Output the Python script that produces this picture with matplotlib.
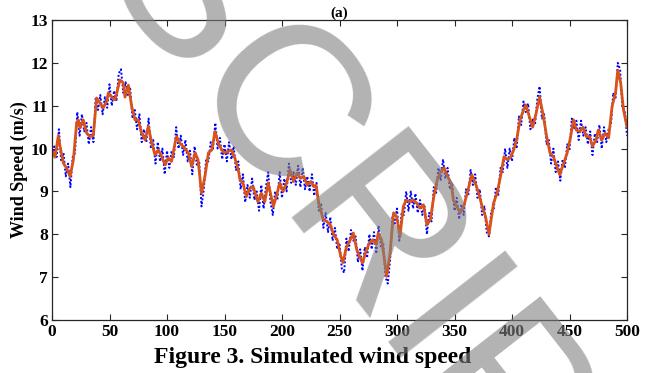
import matplotlib
matplotlib.use("Agg")
import matplotlib.pyplot as plt

# Smoothed (orange) wind speed, read at irregular knots
t_smooth = [0, 2.6, 5.5, 7, 9.9, 12.8, 15.7, 18.6, 21.4, 22.9, 24.3, 27.2, 30.1, 33, 35.9,
            38.8, 41.7, 44.6, 47.5, 49, 51.9, 54.8, 57.7, 59.1, 62, 63.5, 66.4, 69.3, 72.2,
            75, 78, 80.9, 83.8, 86.7, 89.6, 92.5, 95.4, 98.3, 101, 104, 107, 108.4, 111,
            114, 118.6, 121.5, 124.4, 127, 130, 133, 136, 139, 141.7, 144.6, 147.5, 150,
            153, 156, 159, 162, 163.5, 166, 169, 172, 175, 179, 182, 185, 188, 192.5, 195,
            198, 201, 204, 207, 210, 213, 216, 219, 222, 225, 228, 229.5, 232, 233.5, 236,
            239, 242, 245, 248, 251, 253, 256, 259, 262, 265, 267.5, 270, 273, 276, 279,
            282, 283.7, 286.6, 289.5, 291, 294, 297, 299.7, 302.6, 305.5, 308, 311, 314,
            317, 320, 323, 326, 329, 332, 335, 338, 341, 344, 347, 349, 352, 355, 358, 361,
            365, 368, 371, 374, 377, 380, 384, 387, 390, 393, 396, 399, 401.5, 404, 407,
            410, 412, 415, 418, 421, 424, 427, 430, 433, 436, 439, 441.5, 445, 448, 451,
            453.5, 456, 459, 461.7, 464.6, 467.5, 470, 473, 475, 478, 481, 484, 487, 490,
            492, 494.5, 497, 500]
v_smooth = [9.95, 9.8, 10.3, 10.05, 9.66, 9.54, 9.35, 9.74, 10.6, 10.67, 10.48, 10.67, 10.36,
            10.28, 10.3, 11.18, 11.06, 10.95, 11.1, 11.3, 11.2, 11.14, 11.45, 11.6, 11.53,
            11.2, 11.48, 10.98, 10.67, 10.67, 10.36, 10.2, 10.52, 10.13, 9.85, 9.97, 9.81,
            9.62, 9.78, 9.7, 10.13, 10.28, 10.13, 10.05, 9.9, 9.58, 9.9, 9.74, 8.96, 9.35,
            9.9, 9.97, 10.4, 10.13, 9.97, 9.9, 9.93, 9.97, 9.78, 9.5, 9.27, 9.2, 8.88, 9.08,
            9.11, 8.76, 8.96, 8.76, 9.2, 8.65, 8.88, 9.2, 9.0, 9.2, 9.5, 9.23, 9.43, 9.31,
            9.35, 9.15, 9.23, 9.11, 9.15, 8.73, 8.57, 8.34, 8.3, 8.22, 7.99, 7.87, 7.5, 7.34,
            7.7, 7.85, 8.03, 7.64, 7.48, 7.33, 7.6, 7.8, 7.87, 7.76, 8.03, 7.87, 7.33, 7.02,
            7.57, 8.5, 8.41, 7.95, 8.65, 8.8, 8.76, 8.8, 8.73, 8.61, 8.69, 8.22, 8.34, 8.88,
            9.27, 9.46, 9.55, 9.35, 9.2, 8.8, 8.65, 8.5, 8.65, 8.96, 9.39, 9.2, 8.96, 8.65,
            8.41, 8.0, 8.73, 8.96, 9.35, 9.81, 9.74, 9.81, 9.97, 10.2, 10.67, 10.9, 11.02,
            10.75, 10.5, 10.83, 11.2, 10.8, 10.3, 9.9, 9.81, 9.58, 9.39, 9.66, 9.9, 10.28,
            10.67, 10.43, 10.4, 10.5, 10.28, 10.28, 10.05, 10.2, 10.43, 10.2, 10.36, 10.25,
            10.98, 11.3, 11.83, 11.53, 10.9, 10.5]

# Raw simulated (blue dotted) wind speed, every 2 s
t_raw = list(range(0, 501, 2))
v_raw = [9.75, 10.05, 9.8, 10.45, 9.7, 9.9, 9.35, 9.65, 9.1, 9.8,
         9.9, 10.85, 10.3, 10.8, 10.4, 10.6, 10.1, 10.5, 10.15, 11.2,
         10.9, 11.25, 10.8, 11.2, 10.95, 11.5, 11.0, 11.35, 11.1, 11.75,
         11.85, 11.3, 11.55, 11.25, 11.4, 10.7, 10.9, 10.45, 10.8, 10.15,
         10.45, 10.15, 10.7, 10.0, 10.2, 9.65, 10.15, 9.7, 10.0, 9.4,
         9.95, 9.55, 9.95, 9.8, 10.5, 10.0, 10.3, 9.85, 10.2, 9.7,
         9.95, 9.4, 10.05, 9.6, 9.7, 8.65, 9.05, 9.75, 9.7, 10.15,
         10.0, 10.6, 10.0, 10.25, 9.75, 10.1, 9.7, 10.15, 9.75, 10.05,
         9.5, 9.7, 9.05, 9.4, 8.75, 9.15, 8.85, 9.3, 8.8, 9.0,
         8.55, 9.15, 8.6, 9.1, 9.45, 8.75, 8.45, 9.0, 8.8, 9.45,
         8.85, 9.3, 9.0, 9.65, 9.2, 9.45, 9.15, 9.6, 9.1, 9.55,
         9.05, 9.35, 9.0, 9.4, 8.9, 9.2, 8.55, 8.7, 8.15, 8.5,
         8.05, 8.4, 7.85, 8.15, 7.65, 7.8, 7.2, 7.1, 7.9, 7.6,
         8.1, 7.85, 7.95, 7.35, 7.65, 7.15, 7.7, 7.45, 8.0, 7.65,
         8.05, 7.55, 8.2, 7.7, 7.8, 7.0, 6.85, 7.4, 8.4, 8.25,
         8.6, 7.85, 8.5, 8.45, 9.0, 8.55, 9.0, 8.6, 8.95, 8.5,
         8.8, 8.45, 8.65, 8.0, 8.5, 8.3, 9.1, 8.95, 9.55, 9.25,
         9.75, 9.3, 9.55, 9.05, 9.2, 8.55, 8.85, 8.35, 8.7, 8.45,
         9.05, 8.9, 9.5, 9.15, 9.4, 8.85, 9.05, 8.45, 8.65, 8.05,
         7.95, 8.55, 8.55, 9.1, 8.9, 9.55, 9.45, 10.0, 9.55, 10.0,
         9.7, 10.25, 10.0, 10.75, 10.55, 11.1, 10.85, 11.05, 10.45, 10.7,
         10.55, 11.15, 11.45, 10.7, 10.8, 10.1, 10.2, 9.65, 10.0, 9.45,
         9.7, 9.25, 9.75, 9.55, 10.1, 9.95, 10.7, 10.45, 10.65, 10.2,
         10.65, 10.3, 10.5, 10.1, 10.4, 9.85, 10.35, 10.15, 10.55, 10.0,
         10.5, 10.15, 10.45, 10.55, 11.3, 11.15, 12.0, 11.85, 10.95, 10.9,
         10.3]

x_ticks = list(range(0, 501, 50))
y_ticks = list(range(6, 14))

serif = ["Liberation Serif", "DejaVu Serif"]
plt.rcParams["font.family"] = serif
plt.rcParams["font.weight"] = "bold"

fig = plt.figure(figsize=(6.62, 3.73), dpi=100)
ax = fig.add_axes([52 / 662, 1 - 320 / 373, (627 - 52) / 662, (320 - 20) / 373])

ax.plot(t_raw, v_raw, color="#0000ff", linestyle=(0, (1, 1)), linewidth=1.4)
ax.plot(t_smooth, v_smooth, color="#D95319", linewidth=2.0)

ax.set_xlim(0, 500)
ax.set_ylim(6, 13)
ax.set_xticks(x_ticks)
ax.set_yticks(y_ticks)
ax.tick_params(direction="in", length=4, width=0.8, top=True, right=True,
               labelsize=12.5, colors="#262626", labelcolor="black", pad=3)
for lab in ax.get_xticklabels() + ax.get_yticklabels():
    lab.set_fontweight("bold")
for s in ax.spines.values():
    s.set_color("#262626")
    s.set_linewidth(0.9)

ax.set_ylabel("Wind Speed (m/s)", fontsize=13, fontweight="bold", labelpad=2)
ax.set_title("(a)", fontsize=11, fontweight="bold", pad=2)
fig.text(313 / 662, 1 - 358 / 373, "Figure 3. Simulated wind speed", ha="center",
         va="center", fontsize=17, fontweight="bold")

# Watermark
fig.text(92 / 662, 1 + 24 / 373, "SCRIPT", rotation=-52, rotation_mode="anchor",
         ha="left", va="baseline", fontsize=155, family="Liberation Sans",
         fontweight="normal", color="#808080", alpha=0.6, zorder=10)

fig.savefig("out.png", dpi=100)
